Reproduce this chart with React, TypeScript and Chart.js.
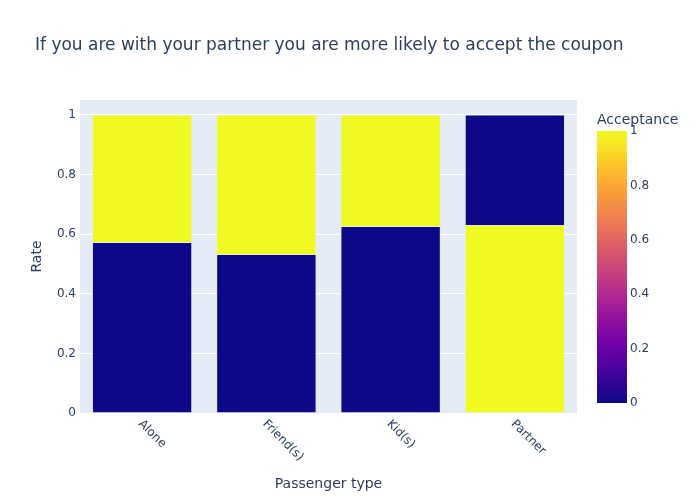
import React, { useEffect, useRef } from "react";
import { Chart, registerables } from "chart.js";

Chart.register(...registerables);

const TITLE = "If you are with your partner you are more likely to accept the coupon";
const X_TITLE = "Passenger type";
const Y_TITLE = "Rate";
const COLORBAR_TITLE = "Acceptance";

const categories = ["Alone", "Friend(s)", "Kid(s)", "Partner"];
// rate of each acceptance value per passenger type
const rateAcceptance0 = [0.572, 0.532, 0.626, 0.37];
const rateAcceptance1 = [0.428, 0.468, 0.374, 0.63];
// which acceptance value sits at the bottom of each stack
const bottomAcceptance = [0, 0, 0, 1];
const yTicks = [0, 0.2, 0.4, 0.6, 0.8, 1];
const colorbarTicks = [0, 0.2, 0.4, 0.6, 0.8, 1];

const plasma = [
  "#0d0887", "#46039f", "#7201a8", "#9c179e", "#bd3786",
  "#d8576b", "#ed7953", "#fb9f3a", "#fdca26", "#f0f921",
];

const FONT = "'DejaVu Sans', Verdana, sans-serif";
const TEXT = "#2a3f5f";
const PLOT_BG = "#E5ECF6";

const colorFor = (v: number) => (v >= 1 ? plasma[plasma.length - 1] : plasma[0]);

const fmt = (v: number) => (Math.abs(v - Math.round(v)) < 1e-9 ? String(Math.round(v)) : v.toFixed(1));

const overlay = {
  id: "overlay",
  beforeDraw(chart: any) {
    const { ctx, chartArea: a } = chart;
    ctx.save();
    ctx.fillStyle = "#ffffff";
    ctx.fillRect(0, 0, chart.width, chart.height);
    ctx.fillStyle = PLOT_BG;
    ctx.fillRect(a.left, a.top, a.right - a.left, a.bottom - a.top);
    ctx.restore();
  },
  afterDraw(chart: any) {
    const { ctx, chartArea: a } = chart;
    const xs = chart.scales.x;
    ctx.save();
    ctx.fillStyle = TEXT;
    // title
    ctx.font = `17px ${FONT}`;
    ctx.textAlign = "left";
    ctx.textBaseline = "middle";
    ctx.fillText(TITLE, 35, 46);
    // x tick labels rotated 45deg
    ctx.font = `12px ${FONT}`;
    categories.forEach((c, i) => {
      const px = xs.getPixelForTick(i);
      ctx.save();
      ctx.translate(px - 2, a.bottom + 9);
      ctx.rotate(Math.PI / 4);
      ctx.textAlign = "left";
      ctx.textBaseline = "middle";
      ctx.fillText(c, 0, 0);
      ctx.restore();
    });
    // axis titles
    ctx.font = `14px ${FONT}`;
    ctx.textAlign = "center";
    ctx.textBaseline = "middle";
    ctx.fillText(X_TITLE, (a.left + a.right) / 2, 484);
    ctx.save();
    ctx.translate(37, (a.top + a.bottom) / 2);
    ctx.rotate(-Math.PI / 2);
    ctx.fillText(Y_TITLE, 0, 0);
    ctx.restore();
    // colorbar
    const cbL = 597, cbR = 627, cbT = 131, cbB = 403;
    const g = ctx.createLinearGradient(0, cbB, 0, cbT);
    plasma.forEach((c, i) => g.addColorStop(i / (plasma.length - 1), c));
    ctx.fillStyle = g;
    ctx.fillRect(cbL, cbT, cbR - cbL, cbB - cbT);
    ctx.fillStyle = TEXT;
    ctx.font = `12px ${FONT}`;
    ctx.textAlign = "left";
    ctx.textBaseline = "middle";
    colorbarTicks.forEach((v) => {
      ctx.fillText(fmt(v), cbR + 3, cbB - v * (cbB - cbT));
    });
    ctx.font = `14px ${FONT}`;
    ctx.fillText(COLORBAR_TITLE, cbL, 120);
    ctx.restore();
  },
};

export default function App() {
  const ref = useRef<HTMLCanvasElement | null>(null);
  useEffect(() => {
    document.body.style.margin = "0";
    const bottomVals = categories.map((_, i) => (bottomAcceptance[i] === 0 ? rateAcceptance0[i] : rateAcceptance1[i]));
    const topVals = categories.map((_, i) => (bottomAcceptance[i] === 0 ? rateAcceptance1[i] : rateAcceptance0[i]));
    const bottomColors = bottomAcceptance.map((v) => colorFor(v));
    const topColors = bottomAcceptance.map((v) => colorFor(1 - v));
    const chart = new Chart(ref.current as HTMLCanvasElement, {
      type: "bar",
      data: {
        labels: categories,
        datasets: [
          { data: bottomVals, backgroundColor: bottomColors, borderColor: PLOT_BG, borderWidth: 0.5, categoryPercentage: 0.8, barPercentage: 1 },
          { data: topVals, backgroundColor: topColors, borderColor: PLOT_BG, borderWidth: 0.5, categoryPercentage: 0.8, barPercentage: 1 },
        ],
      },
      options: {
        responsive: false,
        animation: false,
        layout: { padding: { top: 100, right: 123, left: 0, bottom: 0 } },
        plugins: { legend: { display: false }, title: { display: false }, tooltip: { enabled: false } },
        scales: {
          x: {
            stacked: true,
            grid: { display: false },
            border: { display: false },
            ticks: { display: false },
            afterFit: (s: any) => { s.height = 87; },
          },
          y: {
            stacked: true,
            min: 0,
            max: 1.05,
            afterBuildTicks: (s: any) => { s.ticks = yTicks.map((v) => ({ value: v })); },
            ticks: {
              includeBounds: false,
              color: TEXT,
              font: { family: FONT, size: 12 },
              padding: 4,
              callback: (v: any) => fmt(Number(v)),
            },
            grid: { color: "#ffffff", lineWidth: 1, drawTicks: false },
            border: { display: false },
            afterFit: (s: any) => { s.width = 80; },
          },
        },
      },
      plugins: [overlay],
    });
    return () => chart.destroy();
  }, []);
  return (
    <div style={{ position: "absolute", left: 0, top: 0, width: 700, height: 500 }}>
      <canvas ref={ref} width={700} height={500} />
    </div>
  );
}
